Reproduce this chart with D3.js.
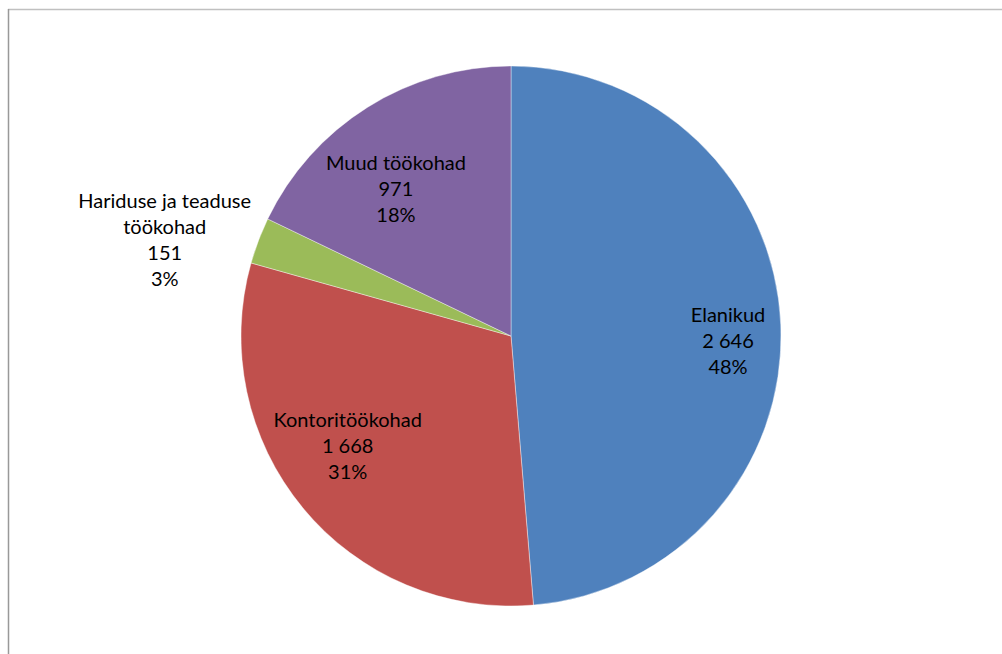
<!DOCTYPE html>
<html>
<head>
<meta charset="utf-8">
<script src="https://cdn.jsdelivr.net/npm/d3@7"></script>
<style>
  html, body { margin: 0; padding: 0; background: #fff; }
  #chart { width: 1002px; height: 654px; }
  text { font-family: Lato, "Open Sans", sans-serif; font-size: 20px; fill: #000; }
</style>
</head>
<body>
<div id="chart"></div>
<script>
// data
const categories = ["Elanikud", "Kontoritöökohad", "Hariduse ja teaduse töökohad", "Muud töökohad"];
const values = [2646, 1668, 151, 971];
const shareLabels = ["48%", "31%", "3%", "18%"];
const valueLabels = ["2 646", "1 668", "151", "971"];

const width = 1002, height = 654;
const cx = 511, cy = 336, radius = 270;
const colors = ["#4F81BD", "#C0504D", "#9BBB59", "#8064A2"];

// label placement: radius as share of pie radius, angle nudge in degrees
const labelLayout = [
  {r: 0.804, da: 3.7,  lines: ["Elanikud"]},
  {r: 0.73,  da: 5.5,  lines: ["Kontoritöökohad"]},
  {r: 1.331, da: -5.2, lines: ["Hariduse ja teaduse", "töökohad"]},
  {r: 0.69,  da: -6,   lines: ["Muud töökohad"]}
];

const svg = d3.select("#chart").append("svg")
    .attr("width", width)
    .attr("height", height);

// chart area frame (runs past the window on right/bottom)
svg.append("line")
    .attr("x1", 8).attr("x2", width)
    .attr("y1", 9.5).attr("y2", 9.5)
    .attr("stroke", "#c0c0c0").attr("stroke-width", 1.5);
svg.append("line")
    .attr("x1", 8.5).attr("x2", 8.5)
    .attr("y1", 9).attr("y2", height)
    .attr("stroke", "#999").attr("stroke-width", 1.5);

const pie = d3.pie().sort(null).value(d => d);
const arcs = pie(values);

const arc = d3.arc().innerRadius(0).outerRadius(radius);

const g = svg.append("g").attr("transform", `translate(${cx},${cy})`);

g.selectAll("path")
  .data(arcs)
  .join("path")
    .attr("d", arc)
    .attr("fill", (d, i) => colors[i])
    .attr("stroke", "#fff")
    .attr("stroke-width", 0.4);

const lineH = 26;

const labels = g.selectAll("g.label")
  .data(arcs)
  .join("g")
    .attr("class", "label")
    .attr("transform", (d, i) => {
      const L = labelLayout[i];
      const a = (d.startAngle + d.endAngle) / 2 + L.da * Math.PI / 180;
      const rr = L.r * radius;
      const x = Math.sin(a) * rr, y = -Math.cos(a) * rr;
      return `translate(${x},${y})`;
    });

labels.each(function(d, i) {
  const L = labelLayout[i];
  const lines = L.lines.concat([valueLabels[i], shareLabels[i]]);
  const t = d3.select(this).append("text").attr("text-anchor", "middle");
  const y0 = -(lines.length - 1) * lineH / 2;
  lines.forEach((s, k) => {
    t.append("tspan")
      .attr("x", 0)
      .attr("y", y0 + k * lineH)
      .attr("dy", "0.35em")
      .text(s);
  });
});
</script>
</body>
</html>
